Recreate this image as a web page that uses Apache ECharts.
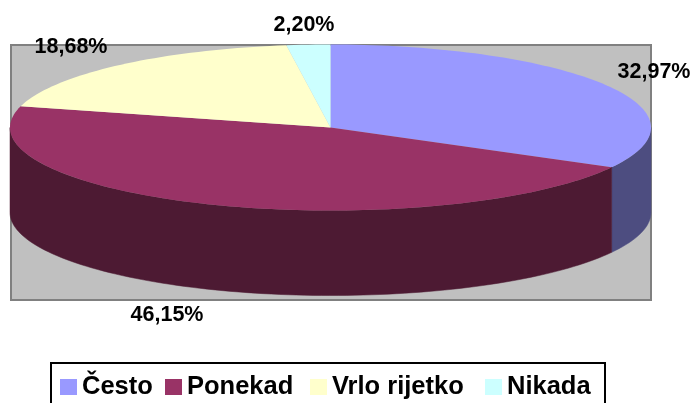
<!DOCTYPE html>
<html>
<head>
<meta charset="utf-8">
<style>html,body{margin:0;padding:0;background:#fff;overflow:hidden}#c{width:691px;height:403px}</style>
<script src="https://cdn.jsdelivr.net/npm/echarts@6/dist/echarts.min.js"></script>
</head>
<body>
<div id="c"></div>
<script>
const categories = ['Često', 'Ponekad', 'Vrlo rijetko', 'Nikada'];
const values = [32.97, 46.15, 18.68, 2.20];
const valueLabels = ['32,97%', '46,15%', '18,68%', '2,20%'];
const topColors = ['#9999FF', '#993366', '#FFFFCC', '#CCFFFF'];
const sideColors = ['#4D4D80', '#4D1A33', '#80805F', '#668080'];
const labelCenters = [[654, 72], [167, 315], [71, 47], [304, 25]];
const legendLefts = [60, 165, 310, 485];

const cx = 330.5, cy = 127.5, rx = 320.5, ry = 83, depth = 85;
const total = values.reduce((a, b) => a + b, 0);
const pt = (deg, dy) => {
  const r = deg * Math.PI / 180;
  return [cx + rx * Math.sin(r), cy - ry * Math.cos(r) + (dy || 0)];
};
const arc = (a, b, dy) => {
  const out = [], n = Math.max(2, Math.ceil(Math.abs(b - a) / 1.5));
  for (let i = 0; i <= n; i++) out.push(pt(a + (b - a) * i / n, dy));
  return out;
};

const series = categories.map((name, idx) => ({
  type: 'custom',
  name,
  coordinateSystem: 'none',
  silent: true,
  z: 2 + idx,
  itemStyle: { color: topColors[idx] },
  data: [[values[idx]]],
  renderItem(params, api) {
    const before = values.slice(0, idx).reduce((a, b) => a + b, 0);
    const start = before / total * 360;
    const end = start + api.value(0) / total * 360;
    const children = [];
    const a = Math.max(start, 90), b = Math.min(end, 270);
    if (b > a) {
      children.push({
        type: 'polygon',
        shape: { points: arc(a, b, 0).concat(arc(b, a, depth)) },
        style: { fill: sideColors[idx], stroke: sideColors[idx], lineWidth: 0.5 }
      });
    }
    children.push({
      type: 'polygon',
      shape: { points: [[cx, cy]].concat(arc(start, end, 0)) },
      style: { fill: topColors[idx] }
    });
    children.push({
      type: 'text',
      z2: 10,
      style: {
        x: labelCenters[idx][0], y: labelCenters[idx][1],
        text: valueLabels[idx], fill: '#000',
        font: 'bold 21.5px "Liberation Sans", Arial, sans-serif',
        align: 'center', verticalAlign: 'middle'
      }
    });
    return { type: 'group', children };
  }
}));

const chart = echarts.init(document.getElementById('c'), null, { renderer: 'canvas' });
chart.setOption({
  animation: false,
  backgroundColor: '#fff',
  legend: categories.map((name, i) => ({
    data: [name],
    left: legendLefts[i],
    top: 374,
    padding: 0,
    itemWidth: 17,
    itemHeight: 16,
    itemGap: 0,
    selectedMode: false,
    icon: 'rect',
    textStyle: { color: '#000', fontWeight: 'bold', fontSize: 25.5, fontFamily: '"Liberation Sans", Arial, sans-serif', padding: [0, 0, 0, 0] }
  })),
  graphic: [
    { type: 'rect', z: 0, silent: true, shape: { x: 11, y: 45, width: 640, height: 255 },
      style: { fill: '#C0C0C0', stroke: '#808080', lineWidth: 2 } },
    { type: 'polyline', z: 0, silent: true, shape: { points: [[51, 403], [51, 363], [605, 363], [605, 403]] },
      style: { fill: 'none', stroke: '#000', lineWidth: 2 } }
  ],
  series
});
</script>
</body>
</html>
